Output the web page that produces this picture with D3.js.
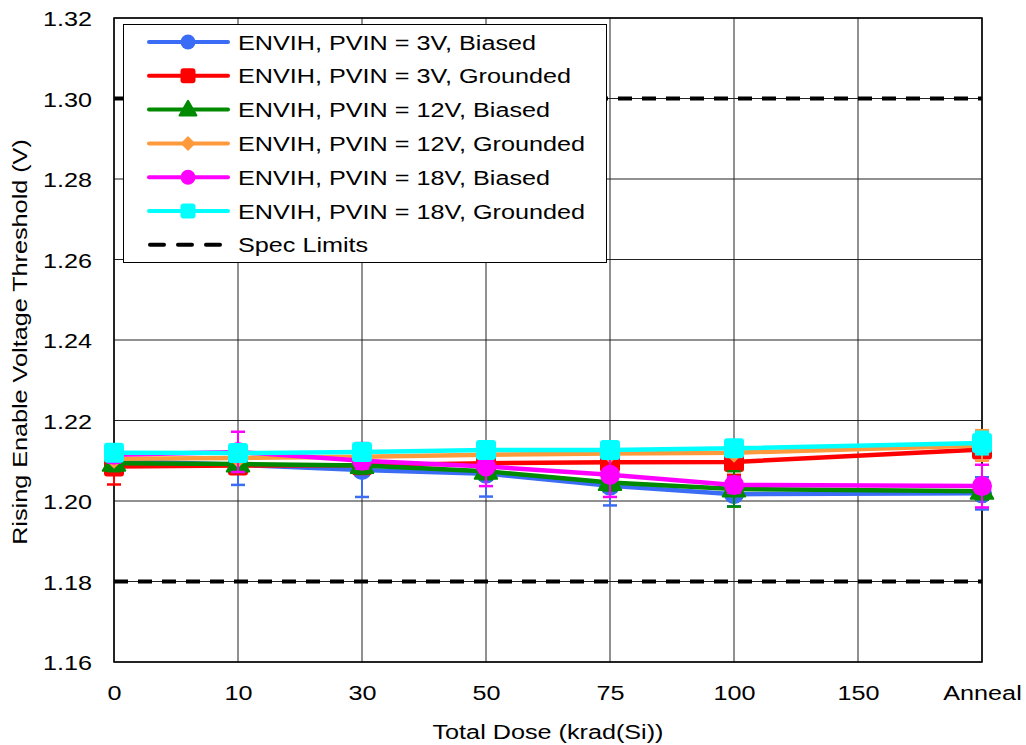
<!DOCTYPE html>
<html><head><meta charset="utf-8">
<script src="https://cdn.jsdelivr.net/npm/d3@7"></script>
<style>body{margin:0;background:#fff}svg{display:block}text{font-family:"Liberation Sans",Arial,sans-serif;fill:#000}</style>
</head><body><svg id="c" width="1026" height="745"></svg>
<script>
const categories = ["0","10","30","50","75","100","150","Anneal"];
const yTicks = [1.16,1.18,1.20,1.22,1.24,1.26,1.28,1.30,1.32];
const specLimits = [1.30, 1.18];
const seriesNames = ["ENVIH, PVIN = 3V, Biased","ENVIH, PVIN = 3V, Grounded","ENVIH, PVIN = 12V, Biased","ENVIH, PVIN = 12V, Grounded","ENVIH, PVIN = 18V, Biased","ENVIH, PVIN = 18V, Grounded"];
const seriesColors = ["#3b6cf5","#ff0000","#008a00","#ff9a3c","#ff00ff","#00ffff"];
const seriesMarkers = ["circle","square","triangle","diamond","circle","square"];
const v3B  = [1.2100,1.2090,1.2077,1.2068,1.2038,1.2017,null,1.2019];
const v3G  = [1.2086,1.2088,1.2089,1.2094,1.2096,1.2097,null,1.2128];
const v12B = [1.2094,1.2092,1.2088,1.2074,1.2046,1.2030,null,1.2024];
const v12G = [1.2105,1.2107,1.2110,1.2115,1.2118,1.2120,null,1.2138];
const v18B = [1.2115,1.2122,1.2100,1.2086,1.2065,1.2040,null,1.2037];
const v18G = [1.2120,1.2119,1.2122,1.2127,1.2127,1.2131,null,1.2144];
const e3B  = [0.002,0.005,0.0067,0.0057,0.0049,0.003,null,0.0040];
const e3G  = [0.0045,0.002,0.002,0.002,0.002,0.0032,null,0.001];
const e12B = [0.002,0.002,0.002,0.002,0.002,0.0044,null,0.002];
const e12G = [0.001,0.001,0.001,0.001,0.001,0.001,null,0.0038];
const e18B = [0.002,0.005,0.002,0.0049,0.0055,0.002,null,0.0053];
const e18G = [0.001,0.001,0.001,0.001,0.001,0.001,null,0.0028];
const seriesValues = [v3B,v3G,v12B,v12G,v18B,v18G];
const seriesErrors = [e3B,e3G,e12B,e12G,e18B,e18G];

const svg = d3.select("#c");
const L=114,R=982,T=18,B=662;
const SX=1.2, FS=21;
const x = d3.scalePoint().domain(categories).range([L,R]);
const y = d3.scaleLinear().domain([1.16,1.32]).range([B,T]);

function txt(g, tx, ty, str, anchor, rot){
  return g.append("text").attr("transform",`translate(${tx},${ty}) rotate(${rot||0}) scale(${SX},1)`)
    .attr("text-anchor",anchor||"start").attr("font-size",FS).text(str);
}

svg.append("g").selectAll("line").data(yTicks).join("line")
  .attr("x1",L).attr("x2",R).attr("y1",d=>y(d)).attr("y2",d=>y(d))
  .attr("stroke","#222").attr("stroke-width",1);
svg.append("g").selectAll("line").data(categories).join("line")
  .attr("x1",d=>x(d)).attr("x2",d=>x(d)).attr("y1",T).attr("y2",B)
  .attr("stroke","#222").attr("stroke-width",1);

const yAxis = svg.append("g").attr("transform",`translate(${L},0)`)
  .call(d3.axisLeft(y).tickValues(yTicks).tickFormat(d3.format(".2f")).tickSize(0).tickPadding(22));
yAxis.select(".domain").remove();
yAxis.selectAll(".tick text").attr("font-size",FS).attr("x",null).attr("dy",null)
  .attr("transform",`translate(-22,7.5) scale(${SX},1)`).style("font-family","Liberation Sans, Arial");
const xAxis = svg.append("g").attr("transform",`translate(0,${B})`)
  .call(d3.axisBottom(x).tickSize(0).tickPadding(22));
xAxis.select(".domain").remove();
xAxis.selectAll(".tick text").attr("font-size",FS).attr("y",null).attr("dy",null)
  .attr("transform",`translate(0,38) scale(${SX},1)`).style("font-family","Liberation Sans, Arial");

svg.append("rect").attr("x",L).attr("y",T).attr("width",R-L).attr("height",B-T)
  .attr("fill","none").attr("stroke","#000").attr("stroke-width",1.5);

svg.append("g").selectAll("line").data(specLimits).join("line")
  .attr("x1",L).attr("x2",R).attr("y1",d=>y(d)).attr("y2",d=>y(d))
  .attr("stroke","#000").attr("stroke-width",4).attr("stroke-dasharray","14,10");

txt(svg,(L+R)/2,739,"Total Dose (krad(Si))","middle");
txt(svg,27,(T+B)/2+2,"Rising Enable Voltage Threshold (V)","middle",-90);

function marker(g, type, color, cx, cy, s){
  if(type==="circle") g.append("circle").attr("cx",cx).attr("cy",cy).attr("r",s/2).attr("fill",color);
  else if(type==="square") g.append("rect").attr("x",cx-s/2).attr("y",cy-s/2).attr("width",s).attr("height",s).attr("rx",3).attr("fill",color);
  else if(type==="triangle") g.append("path").attr("d",d3.symbol(d3.symbolTriangle, s*s*0.55)()).attr("transform",`translate(${cx},${cy+1})`).attr("fill",color).attr("stroke",color).attr("stroke-width",2).attr("stroke-linejoin","round");
  else if(type==="diamond") g.append("path").attr("d",`M0,${-s/2}L${s/2},0L0,${s/2}L${-s/2},0Z`).attr("transform",`translate(${cx},${cy})`).attr("fill",color);
}

const line = d3.line().x(d=>x(d.c)).y(d=>y(d.v));
seriesValues.forEach((vals,i)=>{
  const col = seriesColors[i];
  const pts = categories.map((c,j)=>({c,v:vals[j],e:seriesErrors[i][j]})).filter(d=>d.v!=null);
  const g = svg.append("g");
  pts.forEach(d=>{
    const xx=x(d.c), y1=y(d.v-d.e), y2=y(d.v+d.e);
    g.append("line").attr("x1",xx).attr("x2",xx).attr("y1",y1).attr("y2",y2).attr("stroke",col).attr("stroke-width",2);
    [y1,y2].forEach(yy=>g.append("line").attr("x1",xx-7).attr("x2",xx+7).attr("y1",yy).attr("y2",yy).attr("stroke",col).attr("stroke-width",2.5));
  });
  g.append("path").datum(pts).attr("d",line).attr("fill","none").attr("stroke",col).attr("stroke-width",4.5).attr("stroke-linejoin","round");
  pts.forEach(d=>marker(g, seriesMarkers[i], col, x(d.c), y(d.v), 20));
});

const lg = svg.append("g");
lg.append("rect").attr("x",123.5).attr("y",24.5).attr("width",483).attr("height",238).attr("fill","#fff").attr("stroke","#000").attr("stroke-width",1);
const rowY = i=>42+i*33.8;
seriesNames.forEach((n,i)=>{
  const yy=rowY(i);
  lg.append("line").attr("x1",149).attr("x2",228).attr("y1",yy).attr("y2",yy).attr("stroke",seriesColors[i]).attr("stroke-width",4).attr("stroke-linecap","round");
  marker(lg, seriesMarkers[i], seriesColors[i], 188, yy, 15);
  txt(lg,238,yy+7.5,n,"start");
});
const sy=rowY(6);
lg.append("line").attr("x1",150).attr("x2",228).attr("y1",sy).attr("y2",sy).attr("stroke","#000").attr("stroke-width",4).attr("stroke-dasharray","14,14").attr("stroke-linecap","round");
txt(lg,238,sy+7.5,"Spec Limits","start");
</script></body></html>
